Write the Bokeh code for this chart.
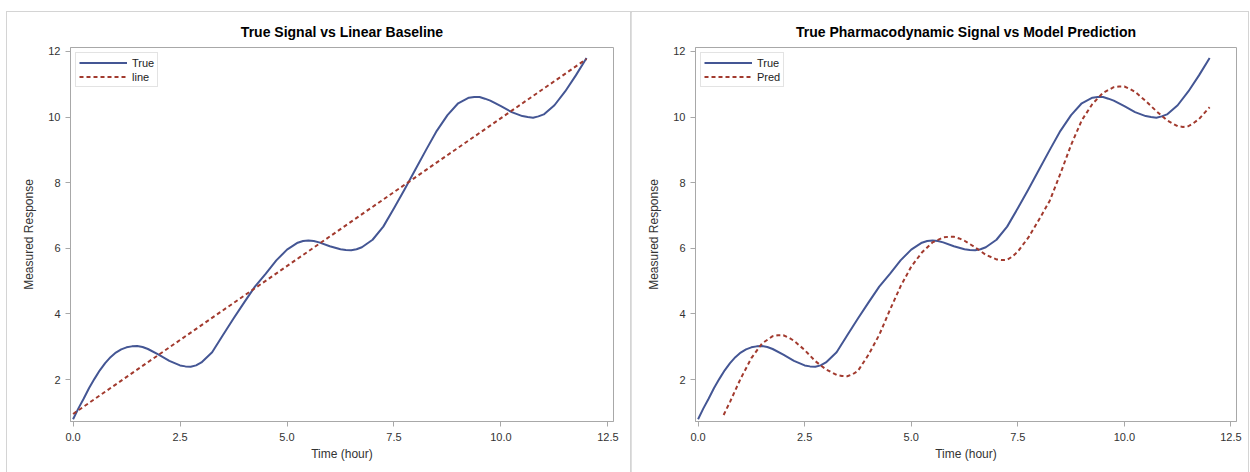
from bokeh.plotting import figure
from bokeh.layouts import row, column
from bokeh.models import Range1d, FixedTicker, PrintfTickFormatter, Spacer
from bokeh.embed import file_html
from bokeh.resources import INLINE

# ---- data ----
time_true = [0.00, 0.125, 0.25, 0.375, 0.50, 0.625, 0.75, 0.875, 1.00, 1.125, 1.25,
             1.375, 1.50, 1.625, 1.75, 2.00, 2.25, 2.50, 2.625, 2.75, 2.875,
             3.00, 3.25, 3.50, 3.75, 4.00, 4.25, 4.50, 4.75, 5.00, 5.25, 5.375, 5.50,
             5.625, 5.75, 6.00, 6.25, 6.375, 6.50, 6.625, 6.75, 7.00, 7.25, 7.50, 7.75,
             8.00, 8.25, 8.50, 8.75, 9.00, 9.25, 9.375, 9.50, 9.625, 9.75, 10.00, 10.25,
             10.50, 10.625, 10.75, 10.875, 11.00, 11.25, 11.50, 11.75, 12.00]
resp_true = [0.79, 1.12, 1.42, 1.74, 2.02, 2.28, 2.50, 2.68, 2.82, 2.92, 2.98,
             3.01, 3.02, 2.99, 2.93, 2.76, 2.57, 2.43, 2.40, 2.39, 2.43,
             2.52, 2.83, 3.35, 3.86, 4.35, 4.83, 5.22, 5.63, 5.96, 6.17, 6.22, 6.24,
             6.22, 6.18, 6.06, 5.97, 5.95, 5.94, 5.97, 6.03, 6.26, 6.66, 7.22, 7.80,
             8.40, 9.00, 9.58, 10.06, 10.42, 10.59, 10.61, 10.61, 10.56, 10.50, 10.33, 10.15,
             10.03, 10.00, 9.98, 10.02, 10.08, 10.36, 10.78, 11.27, 11.80]

time_line = [0.0, 12.0]
resp_line = [0.95, 11.77]

time_pred = [0.60, 0.75, 1.00, 1.25, 1.50, 1.75, 1.875, 2.00, 2.125, 2.25, 2.50, 2.75,
             3.00, 3.25, 3.375, 3.50, 3.625, 3.75, 4.00, 4.25, 4.50, 4.75, 5.00, 5.25,
             5.50, 5.75, 5.875, 6.00, 6.125, 6.25, 6.50, 6.75, 7.00, 7.125, 7.25, 7.375,
             7.50, 7.75, 8.00, 8.25, 8.50, 8.75, 9.00, 9.25, 9.50, 9.75, 9.875, 10.00,
             10.125, 10.25, 10.50, 10.75, 11.00, 11.25, 11.375, 11.50, 11.625, 11.75, 12.00]
resp_pred = [0.92, 1.32, 2.03, 2.65, 3.10, 3.32, 3.35, 3.35, 3.28, 3.18, 2.90, 2.56,
             2.31, 2.14, 2.11, 2.10, 2.16, 2.26, 2.76, 3.36, 4.12, 4.84, 5.44, 5.87,
             6.18, 6.33, 6.35, 6.35, 6.30, 6.23, 6.03, 5.80, 5.66, 5.64, 5.65, 5.75,
             5.90, 6.33, 6.88, 7.45, 8.28, 9.15, 9.90, 10.40, 10.74, 10.91, 10.93, 10.93,
             10.86, 10.77, 10.49, 10.18, 9.90, 9.72, 9.70, 9.72, 9.82, 9.94, 10.30]

x_ticks = [0.0, 2.5, 5.0, 7.5, 10.0, 12.5]
y_ticks = [2, 4, 6, 8, 10, 12]

BLUE = "#445694"
RED = "#A23A2E"
FONT = "Liberation Sans"
GRAY = "#a8a8a8"


def make_fig(title, width, mbl, mbr):
    p = figure(width=width, height=460,
               x_range=Range1d(-0.06, 12.63), y_range=Range1d(0.72, 12.12),
               output_backend="svg", toolbar_location=None,
               min_border_left=mbl, min_border_right=mbr,
               min_border_top=35, min_border_bottom=51,
               styles={"outline": "1px solid #d4d4d4", "outline-offset": "0px"})
    p.title.text = title
    p.title.align = "center"
    p.title.text_font = FONT
    p.title.text_font_size = "14px"
    p.title.text_font_style = "bold"
    p.title.text_color = "#000000"
    p.title.standoff = 16
    p.xgrid.visible = False
    p.ygrid.visible = False
    p.outline_line_color = GRAY
    p.outline_line_width = 1
    p.background_fill_color = "white"
    p.border_fill_color = "white"

    for ax in (p.xaxis[0], p.yaxis[0]):
        ax.axis_line_color = GRAY
        ax.major_tick_line_color = GRAY
        ax.minor_tick_line_color = None
        ax.major_tick_out = 5
        ax.major_tick_in = 0
        ax.major_label_text_font = FONT
        ax.major_label_text_font_size = "11px"
        ax.major_label_text_color = "#333333"
        ax.axis_label_text_font = FONT
        ax.axis_label_text_font_size = "12px"
        ax.axis_label_text_font_style = "normal"
        ax.axis_label_text_color = "#333333"

    p.xaxis.major_label_standoff = 6
    p.yaxis.major_label_standoff = 5
    p.xaxis.ticker = FixedTicker(ticks=x_ticks)
    p.xaxis.formatter = PrintfTickFormatter(format="%.1f")
    p.yaxis.ticker = FixedTicker(ticks=y_ticks)
    p.xaxis.axis_label = "Time (hour)"
    p.yaxis.axis_label = "Measured Response"
    p.xaxis.axis_label_standoff = 3
    p.yaxis.axis_label_standoff = 9
    return p


p1 = make_fig("True Signal vs Linear Baseline", 624, 63, 18)
p1.line(time_true, resp_true, line_color=BLUE, line_width=2, line_join="round",
        legend_label="True")
p1.line(time_line, resp_line, line_color=RED, line_width=2, line_dash="4 3",
        legend_label="line")

p2 = make_fig("True Pharmacodynamic Signal vs Model Prediction", 617, 64, 12)
p2.line(time_true, resp_true, line_color=BLUE, line_width=2, line_join="round",
        legend_label="True")
p2.line(time_pred, resp_pred, line_color=RED, line_width=2, line_dash="4 3",
        line_join="round", legend_label="Pred")

for p in (p1, p2):
    lg = p.legend[0]
    lg.location = "top_left"
    lg.border_line_color = "#c8c8c8"
    lg.background_fill_color = "white"
    lg.background_fill_alpha = 1.0
    lg.label_text_font = FONT
    lg.label_text_font_size = "11px"
    lg.label_text_color = "#222222"
    lg.glyph_width = 48
    lg.glyph_height = 13
    lg.label_height = 13
    lg.spacing = 1
    lg.padding = 3
    lg.margin = 5
    lg.label_standoff = 5

layout = column(Spacer(height=12), row(Spacer(width=7), p1, p2))
open("out.html", "w").write(file_html(layout, INLINE))
